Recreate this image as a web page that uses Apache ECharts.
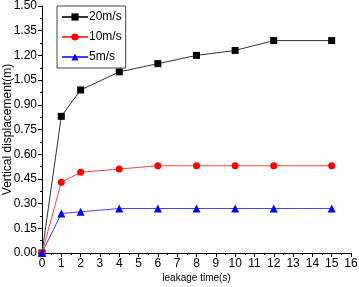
<!DOCTYPE html>
<html><head><meta charset="utf-8">
<script src="https://cdn.jsdelivr.net/npm/echarts@6/dist/echarts.min.js"></script>
<style>html,body{margin:0;padding:0;background:#fff}#c{width:359px;height:287px}</style>
</head><body><div id="c"></div>
<script>
var times = [0, 1, 2, 4, 6, 8, 10, 12, 15];
var s20 = [0, 0.83, 0.99, 1.10, 1.15, 1.20, 1.23, 1.29, 1.29];
var s10 = [0, 0.43, 0.49, 0.51, 0.53, 0.53, 0.53, 0.53, 0.53];
var s5 = [0, 0.24, 0.25, 0.27, 0.27, 0.27, 0.27, 0.27, 0.27];
var names = ['20m/s', '10m/s', '5m/s'];
function pairs(v){ return times.map(function(t,i){ return [t, v[i]]; }); }
var font = 'Liberation Sans, Arial, sans-serif';
var chart = echarts.init(document.getElementById('c'));
chart.setOption({
  animation: false,
  grid: {left: 42, right: 8, top: 6, bottom: 34, containLabel: false, outerBoundsMode: 'none'},
  legend: {
    orient: 'vertical', left: 57, top: 6, padding: [5, 4, 5, 4],
    borderColor: '#444', borderWidth: 1, itemWidth: 26, itemHeight: 9, itemGap: 8,
    textStyle: {fontFamily: font, fontSize: 12, color: '#000', padding: [0,0,0,-4]},
    data: names
  },
  xAxis: {
    type: 'value', min: 0, max: 16, interval: 1,
    name: 'leakage time(s)', nameLocation: 'middle', nameGap: 20, nameMoveOverlap: false,
    nameTextStyle: {fontFamily: font, fontSize: 10, color: '#000'},
    axisLine: {lineStyle: {color: '#000'}},
    axisTick: {length: 4, lineStyle: {color: '#000'}},
    minorTick: {show: true, splitNumber: 2, length: 2, lineStyle: {color: '#000'}},
    axisLabel: {fontFamily: font, fontSize: 12, color: '#000', margin: 5},
    splitLine: {show: false}
  },
  yAxis: {
    type: 'value', min: 0, max: 1.5, interval: 0.15,
    name: 'Vertical displacement(m)', nameLocation: 'middle', nameGap: 28, nameMoveOverlap: false,
    nameTextStyle: {fontFamily: font, fontSize: 12, color: '#000'},
    axisLine: {show: true, lineStyle: {color: '#000'}},
    axisTick: {show: true, length: 4, lineStyle: {color: '#000'}},
    minorTick: {show: true, splitNumber: 2, length: 2, lineStyle: {color: '#000'}},
    axisLabel: {fontFamily: font, fontSize: 12, color: '#000', margin: 5,
      formatter: function(v){ return v.toFixed(2); }},
    splitLine: {show: false}
  },
  series: [
    {name: names[0], type: 'line', data: pairs(s20), symbol: 'rect', symbolSize: 7,
     itemStyle: {color: '#000'}, lineStyle: {color: '#333', width: 1}},
    {name: names[1], type: 'line', data: pairs(s10), symbol: 'circle', symbolSize: 7,
     itemStyle: {color: '#ff0000'}, lineStyle: {color: '#ff4040', width: 1}},
    {name: names[2], type: 'line', data: pairs(s5), symbol: 'triangle', symbolSize: 8,
     itemStyle: {color: '#0000ff'}, lineStyle: {color: '#4040ff', width: 1}}
  ]
});
</script></body></html>
